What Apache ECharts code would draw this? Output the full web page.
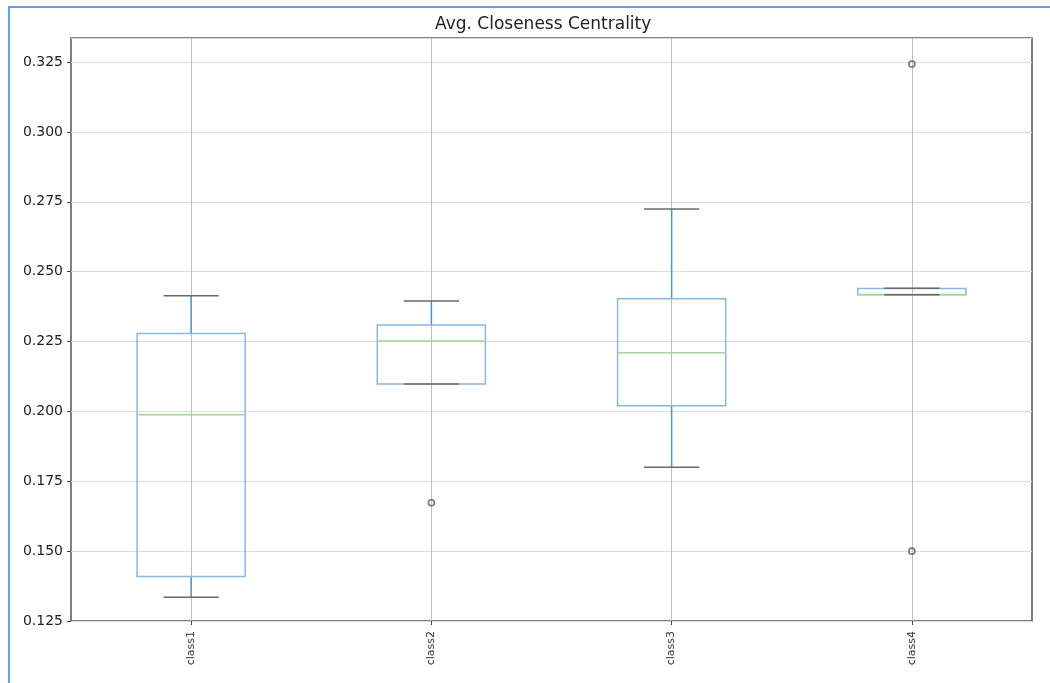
<!DOCTYPE html>
<html>
<head>
<meta charset="utf-8">
<script src="https://cdn.jsdelivr.net/npm/echarts@6/dist/echarts.min.js"></script>
<style>html,body{margin:0;padding:0;background:#fff;}#c{width:1050px;height:683px;}</style>
</head>
<body>
<div id="c"></div>
<script>
const categories = ['class1', 'class2', 'class3', 'class4'];
const lowWhisker = [0.1335, 0.2098, 0.1800, 0.2417];
const q1 = [0.1409, 0.2098, 0.2020, 0.2417];
const median = [0.1988, 0.2252, 0.2210, 0.2418];
const q3 = [0.2279, 0.2309, 0.2403, 0.2440];
const highWhisker = [0.2414, 0.2395, 0.2724, 0.2441];
const outliers = [['class2', 0.1673], ['class4', 0.3243], ['class4', 0.1500]];
const yTicks = { min: 0.125, max: 0.3336, interval: 0.025 };

const FONT = 'DejaVu Sans';
const chart = echarts.init(document.getElementById('c'), null, { renderer: 'canvas' });

const boxData = categories.map((c, i) => [i, lowWhisker[i], q1[i], median[i], q3[i], highWhisker[i]]);

function renderBox(params, api) {
  const idx = api.value(0);
  const lo = api.coord([idx, api.value(1)]);
  const b1 = api.coord([idx, api.value(2)]);
  const md = api.coord([idx, api.value(3)]);
  const b3 = api.coord([idx, api.value(4)]);
  const hi = api.coord([idx, api.value(5)]);
  const band = api.size([1, 0])[0];
  const hw = band * 0.225;
  const cw = band * 0.115;
  const x = lo[0];
  const blue = '#8bb7dd';
  const whisk = '#4f92cf';
  return {
    type: 'group',
    children: [
      { type: 'line', shape: { x1: x, y1: b3[1], x2: x, y2: hi[1] }, style: { stroke: whisk, lineWidth: 1.5 } },
      { type: 'line', shape: { x1: x, y1: b1[1], x2: x, y2: lo[1] }, style: { stroke: whisk, lineWidth: 1.5 } },
      { type: 'rect', shape: { x: x - hw, y: b3[1], width: hw * 2, height: b1[1] - b3[1] }, style: { fill: 'none', stroke: blue, lineWidth: 1.5 } },
      { type: 'line', shape: { x1: x - hw, y1: md[1], x2: x + hw, y2: md[1] }, style: { stroke: '#a3d69d', lineWidth: 1.5 } },
      { type: 'line', shape: { x1: x - cw, y1: hi[1], x2: x + cw, y2: hi[1] }, style: { stroke: '#6a6a6a', lineWidth: 1.5 } },
      { type: 'line', shape: { x1: x - cw, y1: lo[1], x2: x + cw, y2: lo[1] }, style: { stroke: '#6a6a6a', lineWidth: 1.5 } }
    ]
  };
}

chart.setOption({
  animation: false,
  backgroundColor: '#ffffff',
  textStyle: { fontFamily: FONT },
  title: {
    text: 'Avg. Closeness Centrality',
    left: 435, top: 16, padding: 0,
    textStyle: { fontFamily: FONT, fontSize: 17, fontWeight: 'normal', color: '#222' }
  },
  grid: {
    left: 71, right: 18, top: 38, bottom: 62,
    show: true, borderColor: '#555', borderWidth: 1.5, backgroundColor: 'transparent'
  },
  xAxis: {
    type: 'category',
    data: categories,
    boundaryGap: true,
    axisLine: { show: false },
    axisTick: { show: true, alignWithLabel: true, length: 4, lineStyle: { color: '#444' } },
    axisLabel: { rotate: 90, fontSize: 11, color: '#333', margin: 10, fontFamily: FONT },
    splitLine: { show: false }
  },
  yAxis: {
    type: 'value',
    min: yTicks.min, max: yTicks.max, interval: yTicks.interval,
    axisLine: { show: false },
    axisTick: { show: true, length: 4, lineStyle: { color: '#444' } },
    axisLabel: {
      fontSize: 14, color: '#222', margin: 8, fontFamily: FONT,
      showMaxLabel: false,
      formatter: v => v.toFixed(3)
    },
    splitLine: { show: true, lineStyle: { color: '#dcdcdc', width: 1.2 } }
  },
  graphic: [
    { type: 'polyline', shape: { points: [[1050, 7], [9, 7], [9, 683]] }, style: { stroke: '#6c9fd6', lineWidth: 2.2, fill: 'none' }, silent: true, z: 100 }
  ],
  series: [
    {
      type: 'line',
      data: [],
      z: 1,
      silent: true,
      markLine: {
        silent: true,
        z: 1,
        symbol: 'none',
        label: { show: false },
        lineStyle: { color: '#bdbdbd', width: 1, type: 'solid' },
        data: categories.map(c => ({ xAxis: c }))
      }
    },
    {
      type: 'custom',
      renderItem: renderBox,
      data: boxData,
      encode: { x: 0, y: [1, 2, 3, 4, 5] },
      z: 10
    },
    {
      type: 'scatter',
      data: outliers,
      symbol: 'circle',
      symbolSize: 6,
      itemStyle: { color: 'rgba(255,255,255,0)', borderColor: '#555', borderWidth: 1.6 },
      z: 11
    }
  ]
});
</script>
</body>
</html>
